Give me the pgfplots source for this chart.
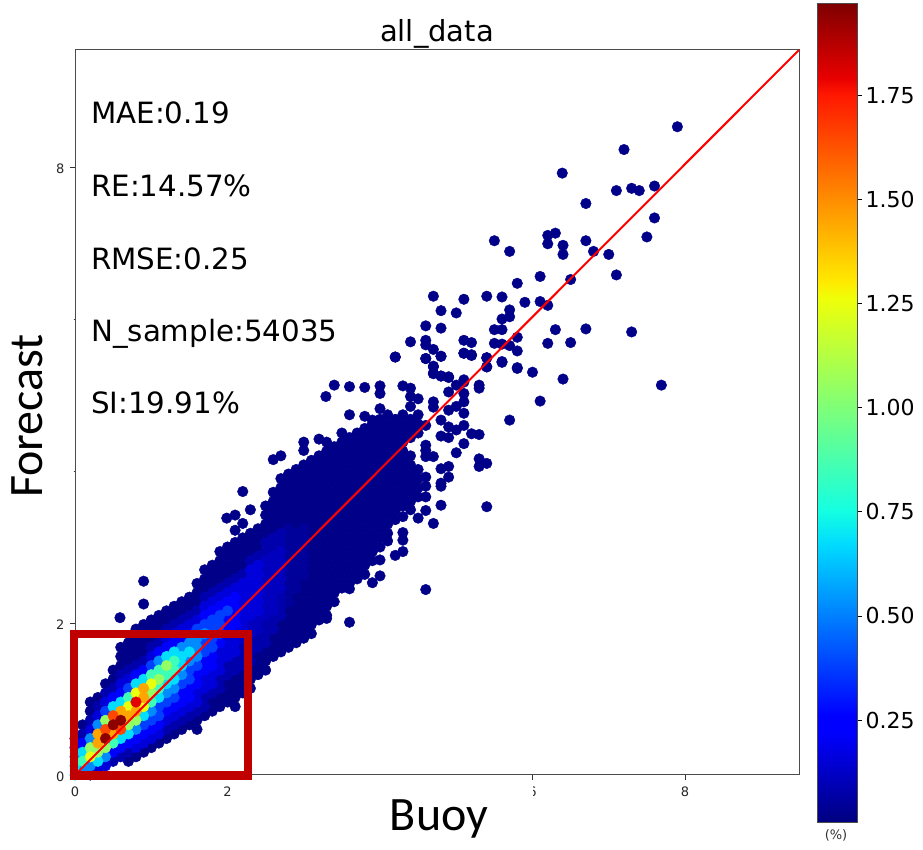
\documentclass[border=0pt]{standalone}
\usepackage{fontspec}
\setmainfont{DejaVu Sans}
\newfontfamily\carlito{Carlito}
\usepackage{pgfplots}
\pgfplotsset{compat=1.18}
\pgfplotsset{colormap={mpljet}{rgb255(0bp)=(0,0,128) rgb255(11bp)=(0,0,255) rgb255(13bp)=(0,0,255) rgb255(34bp)=(0,219,255) rgb255(38bp)=(20,255,226) rgb255(64bp)=(239,255,8) rgb255(66bp)=(255,234,0) rgb255(89bp)=(255,23,0) rgb255(91bp)=(232,0,0) rgb255(100bp)=(128,0,0)}}
\pgfplotsset{pt/.style={scatter,only marks,mark=*,mark size=5.3bp,point meta={#1},scatter/use mapped color={draw=mapped color,fill=mapped color}}}
\begin{document}
\begin{tikzpicture}
\path[use as bounding box] (0,0) rectangle (923bp,850bp);
\begin{axis}[
 at={(75bp,75bp)},anchor=south west,scale only axis,width=724bp,height=725bp,
 xmin=0,xmax=9.495,ymin=0,ymax=9.54,clip mode=individual,
 axis line style={black!70,line width=1bp},
 xtick={0,2,6,8},xticklabels={0,2,6,8},ytick={0,2,8},yticklabels={0,2,8},
 minor ytick={4,6},minor tick length=1.5bp,
 xtick pos=lower,ytick pos=left,tick align=outside,major tick length=5bp,
 tick style={black!80,line width=.8bp},
 ticklabel style={font=\fontsize{13bp}{15bp}\selectfont,text=black!85},
 xticklabel style={yshift=-3bp},yticklabel style={xshift=-2bp,yshift=-1.5bp},
 colormap name=mpljet,point meta min=0.005,point meta max=1.97,
]
\addplot[pt=0.02] coordinates {
(.1,.66)(.2,.84)(.2,.96)(.3,1.02)(.4,1.2)(.5,1.26)(.5,1.38)(.6,1.44)(.6,1.56)(.6,1.68)
(.7,.18)(.7,1.5)(.7,1.62)(.7,1.74)(.8,.24)(.8,1.56)(.8,1.68)(.8,1.8)(.8,1.92)
(.9,.3)(.9,1.62)(.9,1.74)(.9,1.86)(.9,1.98)(1,.36)(1,1.8)(1,1.92)(1,2.04)
(1.1,.42)(1.1,1.86)(1.1,1.98)(1.1,2.1)(1.2,.48)(1.2,2.04)(1.2,2.16)(1.3,.54)(1.3,2.1)(1.3,2.22)
(1.4,.6)(1.4,2.16)(1.4,2.28)(1.5,.66)(1.5,2.22)(1.5,2.34)(1.6,.6)(1.6,.72)(1.6,2.28)(1.6,2.4)(1.6,2.52)
(1.7,.78)(1.7,2.46)(1.7,2.58)(1.7,2.7)(1.8,.84)(1.8,.96)(1.8,2.52)(1.8,2.64)(1.8,2.76)
(1.9,.9)(1.9,1.02)(1.9,2.58)(1.9,2.7)(1.9,2.82)(1.9,2.94)
(2,.96)(2,1.08)(2,1.2)(2,2.64)(2,2.76)(2,2.88)(2,3)
(2.1,.9)(2.1,1.02)(2.1,1.14)(2.1,1.26)(2.1,2.7)(2.1,2.82)(2.1,2.94)(2.1,3.06)
(2.2,1.08)(2.2,1.2)(2.2,1.32)(2.2,2.76)(2.2,2.88)(2.2,3)(2.2,3.12)
(2.3,1.14)(2.3,1.26)(2.3,1.38)(2.3,2.94)(2.3,3.06)(2.3,3.18)
(2.4,1.32)(2.4,1.44)(2.4,1.56)(2.4,3)(2.4,3.12)(2.4,3.24)
(2.5,1.38)(2.5,1.5)(2.5,1.62)(2.5,3.18)(2.5,3.3)(2.5,3.42)(2.5,3.54)
(2.6,1.56)(2.6,1.68)(2.6,1.8)(2.6,3.24)(2.6,3.36)(2.6,3.48)(2.6,3.6)(2.6,3.72)
(2.7,1.62)(2.7,1.74)(2.7,1.86)(2.7,1.98)(2.7,3.3)(2.7,3.42)(2.7,3.54)(2.7,3.66)(2.7,3.78)(2.7,3.9)
(2.8,1.68)(2.8,1.8)(2.8,1.92)(2.8,2.04)(2.8,2.16)(2.8,3.36)(2.8,3.48)(2.8,3.6)(2.8,3.72)(2.8,3.84)(2.8,3.96)
(2.9,1.74)(2.9,1.86)(2.9,1.98)(2.9,2.1)(2.9,2.22)(2.9,2.34)(2.9,3.3)(2.9,3.42)(2.9,3.54)(2.9,3.66)(2.9,3.78)(2.9,3.9)(2.9,4.02)
(3,1.8)(3,1.92)(3,2.04)(3,2.16)(3,2.28)(3,2.4)(3,2.52)(3,3.36)(3,3.48)(3,3.6)(3,3.72)(3,3.84)(3,3.96)(3,4.08)
(3.1,1.98)(3.1,2.1)(3.1,2.22)(3.1,2.34)(3.1,2.46)(3.1,2.58)(3.1,2.7)(3.1,2.82)(3.1,2.94)(3.1,3.06)(3.1,3.18)(3.1,3.3)(3.1,3.42)(3.1,3.54)(3.1,3.66)(3.1,3.78)(3.1,3.9)(3.1,4.02)(3.1,4.14)
(3.2,2.04)(3.2,2.16)(3.2,2.28)(3.2,2.4)(3.2,2.52)(3.2,2.64)(3.2,2.76)(3.2,2.88)(3.2,3)(3.2,3.12)(3.2,3.24)(3.2,3.36)(3.2,3.48)(3.2,3.6)(3.2,3.72)(3.2,3.84)(3.2,3.96)(3.2,4.08)(3.2,4.2)
(3.3,2.1)(3.3,2.22)(3.3,2.34)(3.3,2.46)(3.3,2.58)(3.3,2.7)(3.3,2.82)(3.3,2.94)(3.3,3.06)(3.3,3.18)(3.3,3.3)(3.3,3.42)(3.3,3.54)(3.3,3.66)(3.3,3.78)(3.3,3.9)(3.3,4.02)(3.3,4.14)(3.3,4.26)(3.3,4.38)
(3.4,2.28)(3.4,2.4)(3.4,2.52)(3.4,2.64)(3.4,2.76)(3.4,2.88)(3.4,3)(3.4,3.12)(3.4,3.24)(3.4,3.36)(3.4,3.48)(3.4,3.6)(3.4,3.72)(3.4,3.84)(3.4,3.96)(3.4,4.08)(3.4,4.2)(3.4,4.32)
(3.5,2.46)(3.5,2.58)(3.5,2.7)(3.5,2.82)(3.5,2.94)(3.5,3.06)(3.5,3.18)(3.5,3.3)(3.5,3.42)(3.5,3.54)(3.5,3.66)(3.5,3.78)(3.5,3.9)(3.5,4.02)(3.5,4.14)(3.5,4.26)(3.5,4.38)(3.5,4.5)
(3.6,2.52)(3.6,2.64)(3.6,2.76)(3.6,2.88)(3.6,3)(3.6,3.12)(3.6,3.24)(3.6,3.36)(3.6,3.48)(3.6,3.6)(3.6,3.72)(3.6,3.84)(3.6,3.96)(3.6,4.08)(3.6,4.2)(3.6,4.32)(3.6,4.44)
(3.7,2.58)(3.7,2.7)(3.7,2.82)(3.7,2.94)(3.7,3.06)(3.7,3.18)(3.7,3.3)(3.7,3.42)(3.7,3.54)(3.7,3.66)(3.7,3.78)(3.7,3.9)(3.7,4.02)(3.7,4.14)(3.7,4.26)(3.7,4.38)(3.7,4.5)
(3.8,2.64)(3.8,2.76)(3.8,2.88)(3.8,3)(3.8,3.12)(3.8,3.24)(3.8,3.36)(3.8,3.48)(3.8,3.6)(3.8,3.72)(3.8,3.84)(3.8,3.96)(3.8,4.08)(3.8,4.2)(3.8,4.32)(3.8,4.44)(3.8,4.56)
(3.9,2.82)(3.9,2.94)(3.9,3.06)(3.9,3.18)(3.9,3.3)(3.9,3.42)(3.9,3.54)(3.9,3.66)(3.9,3.78)(3.9,3.9)(3.9,4.02)(3.9,4.14)(3.9,4.26)(3.9,4.38)(3.9,4.5)(3.9,4.62)
(4,3)(4,3.12)(4,3.24)(4,3.36)(4,3.48)(4,3.6)(4,3.72)(4,3.84)(4,3.96)(4,4.08)(4,4.2)(4,4.32)(4,4.44)(4,4.56)(4,4.68)
(4.1,3.18)(4.1,3.3)(4.1,3.42)(4.1,3.54)(4.1,3.66)(4.1,3.78)(4.1,3.9)(4.1,4.02)(4.1,4.14)(4.1,4.26)(4.1,4.38)(4.1,4.5)(4.1,4.62)(4.1,4.74)
(4.2,3.36)(4.2,3.48)(4.2,3.6)(4.2,3.72)(4.2,3.84)(4.2,3.96)(4.2,4.08)(4.2,4.2)(4.2,4.32)(4.2,4.44)(4.2,4.56)(4.2,4.68)
(4.3,3.54)(4.3,3.66)(4.3,3.78)(4.3,3.9)(4.3,4.02)(4.3,4.14)(4.3,4.26)(4.3,4.38)(4.3,4.5)(4.3,4.62)(4.3,4.74)
(4.4,3.6)(4.4,3.72)(4.4,3.84)(4.4,3.96)(4.4,4.08)(4.4,4.2)(4.4,4.44)(4.4,4.56)(4.4,4.68)
(4.5,3.66)(4.5,3.78)(4.5,3.9)(4.5,4.02)(4.5,4.5)(4.5,4.62)(4.5,4.74)
(4.6,3.66)(4.6,3.8)(4.6,3.92)(4.6,4.19)(4.6,4.27)(4.6,4.34)(4.6,4.6)
(.59,2.07)(.9,2.25)(.9,2.55)(1.99,3.38)(2.1,3.42)(2.1,3.22)(2.2,3.31)(2.2,3.73)(2.3,3.49)
(2.6,4.15)(2.7,4.2)(3,4.38)(3,4.27)(3.2,4.42)(3.29,4.98)(3.4,5.13)(3.6,5.11)(3.8,5.1)(4,5.12)(4,5.02)(4,4.82)
(3.6,4.74)(3.8,4.72)(3.9,4.67)(4.3,5.12)(4.4,5.09)(4.4,4.98)(4.5,4.95)(4.4,4.85)(4.7,4.91)(4.7,4.84)
(4.2,5.5)(4.6,5.48)(4.8,5.51)(4.7,5.37)(4.7,5.28)(4.8,5.25)(4.9,5.23)(5.1,5.55)(5.2,5.52)(5.4,5.49)(5.4,5.37)(5.6,5.44)(5.8,5.35)
(4.9,5.04)(5,5.13)(5.1,5.17)(5.1,5.02)(5.1,4.91)(5.3,5.13)(5.3,5.09)(5,4.85)(4.9,4.8)(5.1,4.76)(5.1,4.6)(5,4.54)(4.9,4.58)(4.8,4.67)
(4.8,4.46)(4.9,4.44)(5.2,4.49)(5.3,4.48)(5.1,4.36)(5,4.24)(5.7,4.67)(5.3,4.16)(5.3,4.06)(5.4,4.1)(4.9,4.06)(4.9,3.92)
(4.8,4.03)(4.8,3.84)(4.8,3.8)(4.7,4.19)(4.8,3.55)(5.4,3.53)(4.6,3.48)(4.7,3.31)(4.5,3.38)(4.4,3.49)(4.3,3.4)(4.3,3.19)(4.3,3.09)(4.3,2.94)
(4.2,2.89)(4.1,3.08)(4,2.83)(4,2.62)(3.9,2.53)(3.6,2.45)(3.6,2.01)(4.6,2.44)(3.3,2.06)(3.1,1.86)
(7.9,8.53)(7.2,8.23)(6.39,7.92)(7.1,7.69)(7.3,7.72)(7.4,7.69)(7.6,7.75)(6.7,7.52)(7.6,7.33)(7.5,7.08)(5.5,7.03)(5.7,6.89)
(6.2,7.1)(6.3,7.13)(6.2,6.99)(6.4,6.97)(6.4,6.85)(6.7,7.03)(6.8,6.89)(7,6.85)(7.1,6.58)(6.1,6.56)(6.5,6.52)(5.8,6.47)
(4.7,6.3)(5.1,6.26)(5.4,6.3)(5.6,6.29)(5.9,6.22)(6.1,6.23)(6.2,6.18)(5.7,6.12)(5.7,6.03)(5.6,6)(4.8,6.11)(5,6.08)
(4.6,5.91)(4.8,5.88)(5.5,5.86)(5.6,5.86)(6.3,5.86)(6.7,5.87)(7.3,5.83)(4.4,5.7)(4.6,5.72)(4.6,5.66)(4.7,5.6)(5.1,5.72)(5.2,5.69)
(5.5,5.68)(5.6,5.67)(5.8,5.76)(5.7,5.65)(5.8,5.58)(6.2,5.68)(6.5,5.69)(5.1,5.55)(5.2,5.53)(4.8,5.51)(4.6,5.48)(4.2,5.5)
(5.4,5.49)(5.6,5.43)(5.4,5.37)(5.8,5.36)(6,5.3)(4.7,5.38)(4.7,5.29)(4.8,5.25)(4.9,5.24)(5.1,5.2)(6.4,5.21)(7.69,5.13)(6.1,4.92)
};
\addplot[pt=0.05] coordinates {
(2.8,2.28)(2.8,2.4)(2.8,2.52)(2.8,2.64)(2.8,2.76)(2.8,2.88)(2.8,3)(2.8,3.12)(2.8,3.24)
(2.9,2.46)(2.9,2.58)(2.9,2.7)(2.9,2.82)(2.9,2.94)(2.9,3.06)(2.9,3.18)(3,2.64)(3,2.76)(3,2.88)(3,3)(3,3.12)(3,3.24)
};
\addplot[pt=0.08] coordinates {
(0,.48)(.1,.54)(.2,0)(.2,.72)(.3,.9)(.4,1.08)(.5,.18)(.5,1.14)(.6,.24)(.6,1.32)(.7,.3)(.7,1.38)(.8,1.44)(.9,1.5)(1,1.68)(1.1,1.74)
(1.2,.6)(1.2,1.92)(1.3,.66)(1.3,1.98)(1.4,.72)(1.4,2.04)(1.5,.78)(1.5,2.1)(1.6,.84)(1.6,2.16)(1.7,.9)(1.7,1.02)(1.7,2.34)(1.8,1.08)(1.8,2.4)
(1.9,1.14)(1.9,1.26)(1.9,2.46)(2,1.32)(2,1.44)(2,2.52)(2.1,1.38)(2.1,1.5)(2.1,2.58)(2.2,1.44)(2.2,1.56)(2.2,1.68)(2.2,2.64)
(2.3,1.5)(2.3,1.62)(2.3,1.74)(2.3,2.82)(2.4,1.68)(2.4,1.8)(2.4,2.88)(2.5,1.74)(2.5,1.86)(2.5,1.98)(2.5,2.94)(2.5,3.06)
(2.6,1.92)(2.6,2.04)(2.6,3)(2.6,3.12)(2.7,2.1)(2.7,2.22)(2.7,2.34)(2.7,3.06)(2.7,3.18)
};
\addplot[pt=0.11] coordinates {
(2.2,1.8)(2.3,1.86)(2.3,1.98)(2.4,1.92)(2.4,2.04)
(2.5,2.1)(2.5,2.22)(2.5,2.34)(2.5,2.46)(2.5,2.58)(2.5,2.7)(2.5,2.82)(2.6,2.16)(2.6,2.28)(2.6,2.4)(2.6,2.52)(2.6,2.64)(2.6,2.76)(2.6,2.88)
(2.7,2.46)(2.7,2.58)(2.7,2.7)(2.7,2.82)(2.7,2.94)
};
\addplot[pt=0.16] coordinates {
(.2,.6)(.3,.06)(.3,.78)(.4,.12)(.4,.96)(.6,1.2)(.7,1.26)(.8,.36)(.9,.42)(1,.48)(1,1.56)(1.1,.54)(1.2,.72)(1.2,1.8)(1.3,.78)(1.3,1.86)
(1.4,.84)(1.4,1.92)(1.5,.9)(1.5,1.98)(1.6,.96)(1.6,1.08)(1.6,2.04)(1.7,1.14)(1.7,1.26)(1.7,2.22)(1.8,1.2)(1.8,1.32)(1.8,2.28)
(1.9,1.38)(1.9,1.5)(1.9,1.62)(1.9,2.34)(2,1.56)(2,1.68)(2,1.8)(2,2.4)(2.1,1.62)(2.1,1.74)(2.1,1.86)(2.1,2.46)(2.2,1.92)(2.2,2.04)(2.2,2.52)
(2.3,2.1)(2.3,2.58)(2.3,2.7)(2.4,2.16)(2.4,2.28)(2.4,2.64)(2.4,2.76)
(2.2,2.16)(2.2,2.28)(2.2,2.4)(2.3,2.22)(2.3,2.34)(2.3,2.46)(2.4,2.4)(2.4,2.52)
};
\addplot[pt=0.25] coordinates {
(0,.36)(.1,.42)(.5,.3)(.5,1.02)(.6,.36)(.6,1.08)(.7,.42)(.8,.48)(.8,1.32)(.9,.54)(.9,1.38)(1,.6)(1.1,.66)(1.1,1.62)(1.2,.84)(1.2,1.68)
(1.3,.9)(1.3,1.74)(1.4,.96)(1.4,1.08)(1.4,1.8)(1.5,1.02)(1.5,1.14)(1.5,1.86)(1.6,1.2)(1.6,1.32)(1.7,1.38)(1.7,1.5)(1.7,2.1)
(1.8,1.44)(1.8,1.56)(1.8,2.16)(1.9,1.74)(1.9,2.22)(2,1.92)(2,2.04)(2,2.28)(2.1,1.98)(2.1,2.1)(2.1,2.22)(2.1,2.34)
};
\addplot[pt=0.38] coordinates {
(.4,.84)(.7,1.14)(.9,.66)(1,.72)(1,1.44)(1.1,.78)(1.1,.9)(1.2,.96)(1.3,1.02)(1.4,1.2)(1.5,1.26)(1.5,1.38)(1.6,1.44)(1.6,1.92)
(1.7,1.62)(1.7,1.74)(1.7,1.98)(1.8,1.68)(1.8,1.8)(1.8,1.92)(1.8,2.04)(1.9,1.86)(1.9,1.98)(1.9,2.1)(2,2.16)
};
\addplot[pt=0.52] coordinates {
(0,.24)(.1,.06)(.2,.12)(.2,.48)(.3,.66)(.4,.24)(.8,.6)(1,.84)(1.1,1.5)(1.2,1.08)(1.3,1.14)(1.4,1.32)(1.4,1.68)(1.5,1.5)(1.5,1.74)
(1.6,1.56)(1.6,1.68)(1.6,1.8)(1.7,1.86)
};
\addplot[pt=0.68] coordinates {
(0,0)(0,.12)(.1,.3)(.3,.18)(.5,.9)(.6,.48)(.6,.96)(.7,.54)(.8,1.2)(.9,.78)(.9,1.26)(1.1,1.02)(1.2,1.2)(1.2,1.56)(1.3,1.26)(1.3,1.62)(1.4,1.44)(1.4,1.56)(1.5,1.62)
};
\addplot[pt=0.85] coordinates {
(.1,.18)(.5,.42)(.7,1.02)(1,.96)(1,1.32)(1.1,1.14)(1.1,1.38)(1.2,1.32)(1.3,1.38)(1.3,1.5)
};
\addplot[pt=1.05] coordinates {
(.2,.36)(.3,.3)(.4,.36)(.4,.72)(.7,.66)(.8,.72)(1,1.08)(1.1,1.26)(1.2,1.44)
};
\addplot[pt=1.25] coordinates {(.2,.24)(.7,.9)(.8,1.08)(.9,.9)(1,1.2)};
\addplot[pt=1.45] coordinates {(.3,.42)(.3,.54)(.5,.54)(.6,.84)(.7,.78)(.8,.84)(.9,1.02)(.9,1.14)};
\addplot[pt=1.65] coordinates {(.4,.6)(.5,.78)(.6,.6)};
\addplot[pt=1.8] coordinates {(.8,.96)};
\addplot[pt=1.95] coordinates {(.4,.48)(.5,.66)(.6,.72)};
\addplot[red,line width=2bp] coordinates {(0,0)(9.495,9.54)};
\end{axis}
\begin{axis}[
 at={(817bp,28bp)},anchor=south west,scale only axis,width=40bp,height=818bp,
 xmin=0,xmax=1,ymin=0.005,ymax=1.97,xtick=\empty,
 ytick={0.25,0.5,0.75,1,1.25,1.5,1.75},yticklabels={0.25,0.50,0.75,1.00,1.25,1.50,1.75},
 ytick pos=right,tick align=outside,major tick length=5bp,
 axis line style={black!70,line width=1bp},axis on top,
 yticklabel style={font=\fontsize{22bp}{24bp}\selectfont,text=black},
 tick style={black,line width=.8bp},
 colormap name=mpljet,point meta min=0.005,point meta max=1.97,
]
\addplot[surf,shader=interp,mesh/cols=2,point meta=y] coordinates {
(0,.005)(1,.005)(0,.221)(1,.221)(0,.26)(1,.26)(0,.673)(1,.673)(0,.752)(1,.752)(0,1.263)(1,1.263)(0,1.302)(1,1.302)(0,1.754)(1,1.754)(0,1.793)(1,1.793)(0,1.97)(1,1.97)};
\end{axis}
\fill[white] (523bp,64bp) rectangle (532.5bp,50bp);
\draw[color={rgb,255:red,192;green,0;blue,0},line width=8.5bp] (74.2bp,216bp) rectangle (248.2bp,74.5bp);
\def\stat{\fontsize{29.3bp}{32bp}\selectfont}
\node[anchor=base west,inner sep=0,font=\stat] at (91bp,726bp) {MAE:0.19};
\node[anchor=base west,inner sep=0,font=\stat] at (91bp,653bp) {RE:14.57\%};
\node[anchor=base west,inner sep=0,font=\stat] at (91bp,580bp) {RMSE:0.25};
\node[anchor=base west,inner sep=0,font=\stat] at (91bp,508bp) {N\_sample:54035};
\node[anchor=base west,inner sep=0,font=\stat] at (91bp,436bp) {SI:19.91\%};
\node[anchor=base,inner sep=0,font=\fontsize{29bp}{32bp}\selectfont] at (437bp,808bp) {all\_data};
\node[anchor=base,inner sep=0,font=\carlito\fontsize{48bp}{50bp}\selectfont] at (439bp,20bp) {Buoy};
\node[anchor=base,inner sep=0,rotate=90,font=\carlito\fontsize{48bp}{50bp}\selectfont] at (42bp,434bp) {Forecast};
\node[inner sep=0,font=\fontsize{13bp}{15bp}\selectfont,text=black!80] at (836bp,15bp) {(\%)};
\end{tikzpicture}
\end{document}
